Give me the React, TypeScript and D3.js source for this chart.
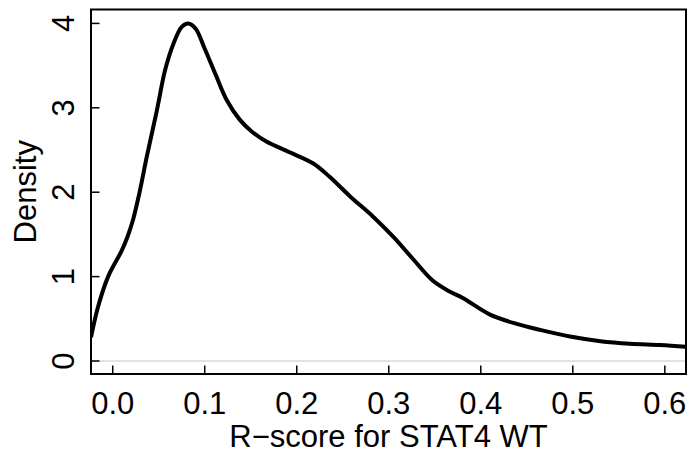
import * as d3 from "d3";

// density curve
const densX = [
  -0.0236, -0.016, -0.005, 0.0094, 0.016, 0.022, 0.029, 0.037, 0.048, 0.057,
  0.066, 0.075, 0.082, 0.09, 0.1, 0.112, 0.124, 0.138, 0.151, 0.167,
  0.193, 0.218, 0.236, 0.258, 0.283, 0.305, 0.327, 0.347, 0.365, 0.38,
  0.41, 0.439, 0.464, 0.497, 0.53, 0.562, 0.595, 0.623,
];
const densY = [
  0.28, 0.64, 1.0, 1.3, 1.47, 1.67, 1.99, 2.42, 2.97, 3.45,
  3.76, 3.96, 4.0, 3.94, 3.7, 3.39, 3.09, 2.86, 2.72, 2.6,
  2.47, 2.34, 2.18, 1.95, 1.71, 1.47, 1.2, 0.96, 0.83, 0.75,
  0.55, 0.44, 0.37, 0.29, 0.235, 0.205, 0.19, 0.17,
];
const xTicks = [0, 0.1, 0.2, 0.3, 0.4, 0.5, 0.6];
const yTicks = [0, 1, 2, 3, 4];
const xTitle = "R\u2212score for STAT4 WT";
const yTitle = "Density";

const W = 691;
const H = 460;
const box = { left: 91, right: 686, top: 9.5, bottom: 374 };
const font = "'Liberation Sans', Arial, Helvetica, sans-serif";

export default function App() {
  const x = d3.scaleLinear().domain([-0.0236, 0.623]).range([box.left, box.right]);
  const y = d3.scaleLinear().domain([-0.154, 4.165]).range([box.bottom, box.top]);

  const pts = densX.map((v, i) => [v, densY[i]] as [number, number]);
  const line = d3
    .line<[number, number]>()
    .x((d) => x(d[0]))
    .y((d) => y(d[1]))
    .curve(d3.curveCatmullRom.alpha(0.5));

  const midX = (box.left + box.right) / 2;
  const midY = (box.top + box.bottom) / 2;

  return (
    <svg
      width={W}
      height={H}
      style={{ position: "absolute", left: 0, top: 0, background: "#fff" }}
      fontFamily={font}
    >
      <defs>
        <clipPath id="plotclip">
          <rect x={box.left} y={box.top} width={box.right - box.left} height={box.bottom - box.top} />
        </clipPath>
      </defs>

      {/* zero reference line */}
      <line x1={box.left} x2={box.right} y1={y(0)} y2={y(0)} stroke="#c8c8c8" strokeWidth={1.2} />

      <path
        d={line(pts) || ""}
        fill="none"
        stroke="#000"
        strokeWidth={4}
        strokeLinejoin="round"
        clipPath="url(#plotclip)"
      />

      {/* ticks (drawn inward) */}
      {xTicks.map((t) => (
        <g key={"x" + t}>
          <line x1={x(t)} x2={x(t)} y1={box.bottom} y2={box.bottom - 8.5} stroke="#000" strokeWidth={1.5} />
          <text x={x(t)} y={414} fontSize={31} textAnchor="middle" fill="#000">
            {d3.format(".1f")(t)}
          </text>
        </g>
      ))}
      {yTicks.map((t) => (
        <g key={"y" + t}>
          <line x1={box.left} x2={box.left + 8.5} y1={y(t)} y2={y(t)} stroke="#000" strokeWidth={1.5} />
          <text
            transform={`translate(74,${y(t)}) rotate(-90)`}
            fontSize={31}
            textAnchor="middle"
            fill="#000"
          >
            {t}
          </text>
        </g>
      ))}

      <rect
        x={box.left}
        y={box.top}
        width={box.right - box.left}
        height={box.bottom - box.top}
        fill="none"
        stroke="#000"
        strokeWidth={2}
      />

      <text x={midX} y={447} fontSize={31} textAnchor="middle" fill="#000">
        {xTitle}
      </text>
      <text
        transform={`translate(36,${midY}) rotate(-90)`}
        fontSize={31}
        textAnchor="middle"
        fill="#000"
      >
        {yTitle}
      </text>
    </svg>
  );
}
